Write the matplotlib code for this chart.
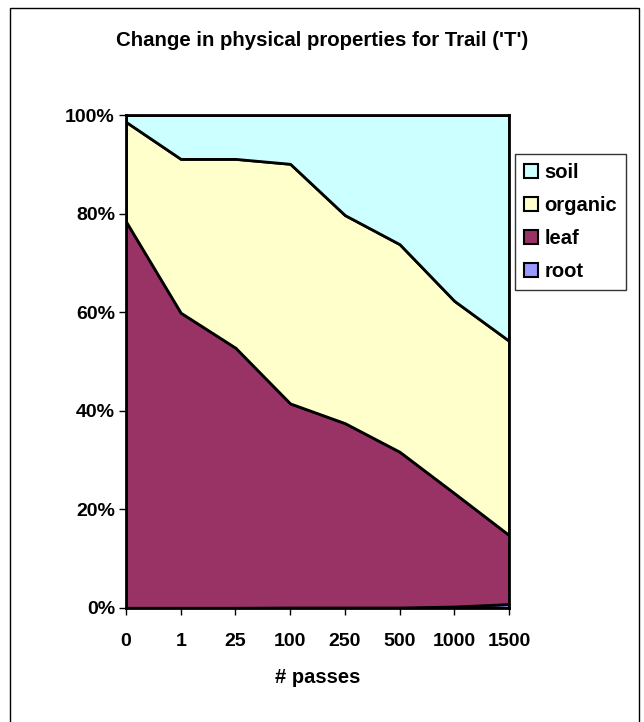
import matplotlib
matplotlib.use("Agg")
from matplotlib import pyplot as plt
from matplotlib.patches import Patch, Rectangle
import numpy as np

plt.rcParams['font.family'] = ['Liberation Sans', 'DejaVu Sans']
plt.rcParams['font.weight'] = 'bold'

passes = ['0', '1', '25', '100', '250', '500', '1000', '1500']
# percent of sample, bottom to top
root = [0.05, 0.05, 0.05, 0.1, 0.1, 0.1, 0.3, 0.8]
leaf = [78.35, 59.85, 52.75, 41.4, 37.4, 31.6, 23.0, 14.0]
organic = [20.2, 31.2, 38.3, 48.6, 42.2, 42.1, 39.0, 39.4]
soil = [1.4, 8.9, 8.9, 9.9, 20.3, 26.2, 37.7, 45.8]

names = ['root', 'leaf', 'organic', 'soil']
colors = ['#9999FF', '#993366', '#FFFFCC', '#CCFFFF']

fig = plt.figure(figsize=(6.44, 7.22), dpi=100)
ax = fig.add_axes([126/644, 1-608/722, (509-126)/644, (608-115)/722])

x = np.arange(len(passes))
ax.stackplot(x, root, leaf, organic, soil, colors=colors,
             edgecolor='black', linewidth=2)

ax.set_xlim(0, len(passes)-1)
ax.set_ylim(0, 100)
ax.set_xticks(x)
ax.set_xticklabels(passes, fontsize=14, fontweight='bold')
ax.set_yticks([0, 20, 40, 60, 80, 100])
ax.set_yticklabels(['0%', '20%', '40%', '60%', '80%', '100%'], fontsize=14, fontweight='bold')
ax.tick_params(direction='out', length=5, width=1)
ax.tick_params(axis='y', pad=3)
ax.tick_params(axis='x', pad=13)
for s in ax.spines.values():
    s.set_linewidth(2)
ax.set_xlabel('# passes', fontsize=14.5, fontweight='bold', labelpad=13)

fig.text(0.5, 1-40/722, "Change in physical properties for Trail ('T')",
         ha='center', va='center', fontsize=14.7, fontweight='bold')

handles = [Patch(facecolor=c, edgecolor='black', linewidth=1.5) for c in colors[::-1]]
leg = fig.legend(handles, names[::-1], loc='upper left',
                 bbox_to_anchor=(515/644, 1-154/722), bbox_transform=fig.transFigure,
                 borderaxespad=0, fancybox=False, prop={'weight': 'bold', 'size': 14.5},
                 handlelength=0.7, handleheight=0.7, handletextpad=0.3,
                 labelspacing=0.7, borderpad=0.45)
leg.get_frame().set_edgecolor('black')
leg.get_frame().set_linewidth(1)

# outer chart border
fig.patches.append(Rectangle((10/644, -0.01), (639-10)/644, 1.01-8/722,
                             transform=fig.transFigure, fill=False,
                             edgecolor='black', linewidth=1))

fig.savefig('out.png', dpi=100)
